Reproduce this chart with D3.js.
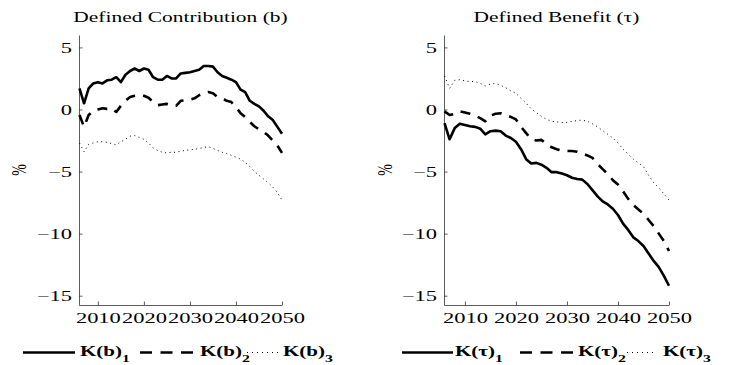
<!DOCTYPE html>
<html>
<head>
<meta charset="utf-8">
<script src="https://cdn.jsdelivr.net/npm/d3@7"></script>
<style>
  body { margin: 0; background: #fff; }
  text { font-family: "Liberation Serif", "Times New Roman", serif; fill: #000; }
</style>
</head>
<body>
<svg id="chart" width="736" height="365"></svg>
<script>
// ------------------------------------
// Data (% deviation)
// ------------------------------------
const years = d3.range(2006, 2051);

const kb1 = [1.7, 0.5, 1.7, 2.1, 2.2, 2.1, 2.35, 2.4, 2.6, 2.2,
  2.8, 3.1, 3.3, 3.1, 3.3, 3.2, 2.6, 2.4, 2.4, 2.7,
  2.5, 2.5, 2.9, 2.95, 3.0, 3.1, 3.2, 3.5, 3.5, 3.45,
  3.0, 2.7, 2.55, 2.4, 2.2, 1.6, 1.4, 0.7, 0.45, 0.25,
  -0.1, -0.55, -0.85, -1.4, -1.95];
const kb2 = [-0.45, -1.4, -0.45, -0.1, 0.0, 0.1, 0.05, 0.1, -0.2, 0.3,
  0.7, 1.0, 1.1, 1.15, 1.1, 0.95, 0.6, 0.35, 0.4, 0.45,
  0.35, 0.3, 0.7, 0.75, 0.8, 0.9, 1.15, 1.3, 1.4, 1.3,
  1.0, 0.9, 0.7, 0.6, 0.2, -0.3, -0.6, -1.0, -1.35, -1.6,
  -1.8, -2.1, -2.5, -2.9, -3.5];
const kb3 = [-2.7, -3.4, -2.8, -2.7, -2.6, -2.6, -2.65, -2.75, -2.85, -2.6,
  -2.4, -2.15, -2.1, -2.25, -2.4, -2.7, -3.1, -3.3, -3.45, -3.5,
  -3.45, -3.45, -3.35, -3.3, -3.25, -3.2, -3.15, -3.05, -3.0, -3.15,
  -3.3, -3.45, -3.55, -3.7, -3.85, -4.0, -4.25, -4.6, -5.0, -5.3,
  -5.6, -5.9, -6.25, -6.7, -7.3];

const kt1 = [-1.1, -2.4, -1.5, -1.15, -1.25, -1.35, -1.4, -1.55, -2.0, -1.75,
  -1.7, -1.75, -2.1, -2.3, -2.6, -3.2, -4.0, -4.35, -4.3, -4.45,
  -4.7, -5.05, -5.05, -5.15, -5.3, -5.5, -5.6, -5.65, -6.0, -6.5,
  -7.0, -7.4, -7.65, -8.0, -8.5, -9.2, -9.7, -10.3, -10.6, -11.0,
  -11.6, -12.2, -12.7, -13.4, -14.2];
const kt2 = [-0.15, -0.45, -0.35, -0.15, -0.25, -0.35, -0.5, -0.7, -0.95, -0.5,
  -0.35, -0.3, -0.45, -0.6, -0.8, -1.4, -1.9, -2.4, -2.5, -2.45,
  -2.8, -3.05, -3.2, -3.3, -3.35, -3.35, -3.4, -3.55, -3.7, -3.9,
  -4.4, -4.8, -5.2, -5.7, -6.05, -6.6, -7.2, -7.7, -8.05, -8.4,
  -8.9, -9.4, -10.0, -10.6, -11.4];
const kt3 = [2.7, 1.7, 2.35, 2.4, 2.3, 2.25, 2.25, 2.1, 1.9, 2.05,
  2.1, 1.95, 1.75, 1.5, 1.3, 0.9, 0.5, 0.05, -0.25, -0.55,
  -0.8, -0.95, -1.0, -1.05, -1.05, -0.95, -0.9, -0.85, -0.95, -1.15,
  -1.4, -1.7, -2.0, -2.3, -2.7, -3.2, -3.6, -4.0, -4.3, -4.6,
  -5.3, -5.9, -6.3, -6.8, -7.3];

const xTicks = [2010, 2020, 2030, 2040, 2050];
const yTicks = [5, 0, -5, -10, -15];
const titles = ["Defined Contribution (b)", "Defined Benefit (\u03c4)"];
const legendNames = ["K(b)", "K(\u03c4)"];

// ------------------------------------
// Layout
// ------------------------------------
const svg = d3.select("#chart");
const plotTop = 35, plotBottom = 305;
const sx = 1.5; // the picture is stretched sideways
const styles = [
  { width: 2.6, dash: null },
  { width: 2.6, dash: "10,8" },
  { width: 1, dash: "1,3.5" }
];

const panels = [
  { left: 79, right: 282, series: [kb1, kb2, kb3], pct: 19,
    legend: [[23, 75, 80], [140, 198, 200], [247, 278, 283]] },
  { left: 444, right: 669, series: [kt1, kt2, kt3], pct: 385,
    legend: [[402, 453, 455], [520, 577, 578], [627, 657, 663]] }
];

const y = d3.scaleLinear().domain([-15.75, 6]).range([plotBottom, plotTop]);

panels.forEach((p, i) => {
  const x = d3.scaleLinear().domain([2005.9, 2050]).range([p.left, p.right]);
  const g = svg.append("g");

  // Axes
  const yAxis = g.append("g")
    .attr("transform", `translate(${p.left},0)`)
    .call(d3.axisLeft(y).tickValues(yTicks).tickSizeInner(-3.5).tickSizeOuter(0));
  yAxis.selectAll("text")
    .attr("x", null)
    .attr("dy", "0.33em")
    .attr("transform", "translate(-7,0) scale(" + sx + ",1)");

  const xAxis = g.append("g")
    .attr("transform", `translate(0,${plotBottom})`)
    .call(d3.axisBottom(x).tickValues(xTicks).tickFormat(d3.format("d"))
      .tickSizeInner(-3.5).tickSizeOuter(0));
  xAxis.selectAll("text")
    .attr("y", null)
    .attr("dy", null)
    .attr("transform", "translate(0,17.5) scale(" + sx + ",1)");

  [yAxis, xAxis].forEach(a => {
    a.attr("font-family", null).attr("font-size", 15);
    a.selectAll("path, line").attr("stroke", "#333").attr("stroke-width", 0.8);
  });

  // Title
  g.append("text")
    .attr("transform", `translate(${(p.left + p.right) / 2},22) scale(${sx},1)`)
    .attr("text-anchor", "middle")
    .attr("font-size", 14.3)
    .text(titles[i]);

  // y label
  g.append("text")
    .attr("transform", `translate(${p.pct},${(plotTop + plotBottom) / 2}) scale(${sx},1) rotate(-90)`)
    .attr("text-anchor", "middle")
    .attr("dy", "0.35em")
    .attr("font-size", 14)
    .text("%");

  // Lines
  const line = d3.line()
    .x((d, j) => x(years[j]))
    .y(d => y(d));

  p.series.forEach((s, k) => {
    g.append("path")
      .datum(s)
      .attr("fill", "none")
      .attr("stroke", "#000")
      .attr("stroke-width", styles[k].width)
      .attr("stroke-dasharray", styles[k].dash)
      .attr("stroke-linejoin", "round")
      .attr("d", line);
  });

  // Legend
  p.legend.forEach(([x0, x1, tx], k) => {
    g.append("line")
      .attr("x1", x0).attr("x2", x1)
      .attr("y1", 352.5).attr("y2", 352.5)
      .attr("stroke", "#000")
      .attr("stroke-width", styles[k].width)
      .attr("stroke-dasharray", k === 1 ? "12,8.5" : k === 2 ? "1,4" : null);
    const t = g.append("text")
      .attr("transform", `translate(${tx},356) scale(${sx},1)`)
      .attr("font-size", 14)
      .attr("font-weight", "bold");
    t.append("tspan").text(legendNames[i]);
    t.append("tspan").attr("dy", 6).attr("font-size", 10.5).text(k + 1);
  });
});
</script>
</body>
</html>
